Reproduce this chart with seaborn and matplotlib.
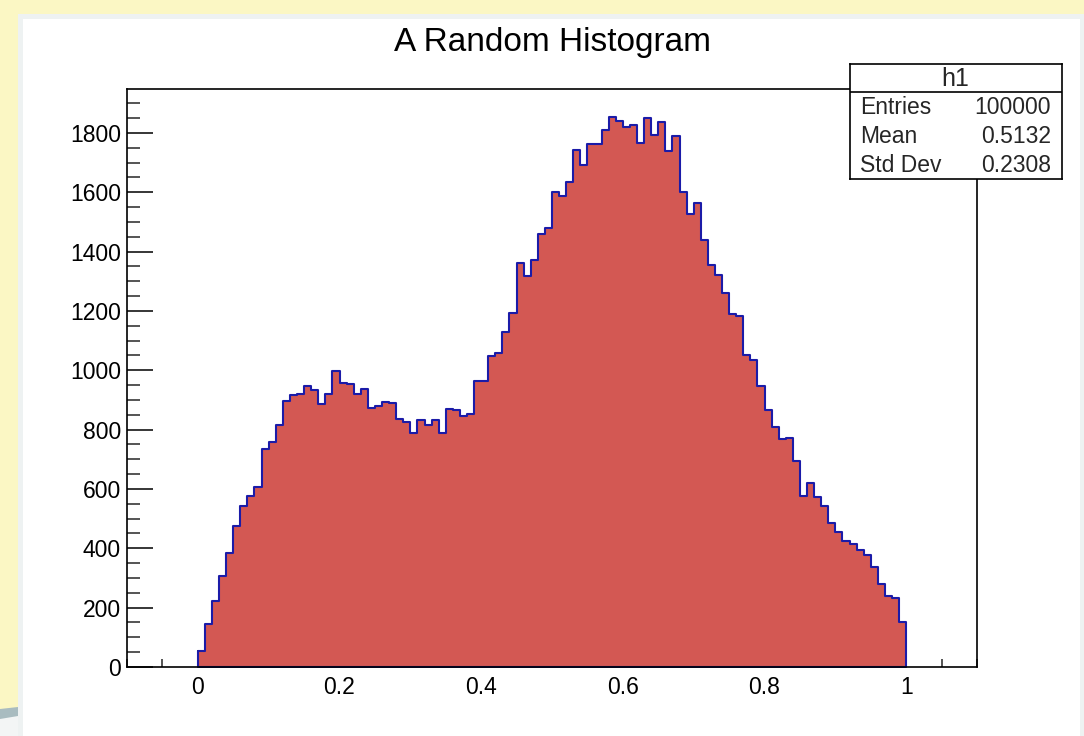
import numpy as np
import matplotlib
matplotlib.use("Agg")
import matplotlib.pyplot as plt
from matplotlib.patches import Rectangle, Polygon
from matplotlib.ticker import MultipleLocator, FixedLocator
import seaborn as sns

# ---------------- data ----------------
title = "A Random Histogram"
hist_name = "h1"
n_bins = 100
x_low, x_high = 0.0, 1.0
counts = [
    54, 145, 223, 306, 385, 474, 541, 575, 607, 736,
    758, 814, 896, 916, 919, 947, 935, 887, 920, 996,
    957, 953, 921, 937, 874, 878, 893, 889, 836, 825,
    790, 832, 814, 831, 790, 869, 866, 845, 854, 964,
    964, 1048, 1058, 1129, 1194, 1362, 1318, 1371, 1459, 1479,
    1602, 1588, 1636, 1743, 1692, 1762, 1764, 1808, 1855, 1841,
    1819, 1825, 1767, 1850, 1793, 1836, 1739, 1790, 1602, 1526,
    1563, 1439, 1355, 1320, 1261, 1188, 1183, 1053, 1033, 947,
    867, 809, 770, 771, 693, 575, 619, 572, 541, 486,
    454, 423, 413, 395, 378, 337, 279, 239, 233, 150,
]
x_tick_values = [0, 0.2, 0.4, 0.6, 0.8, 1.0]
x_tick_labels = ["0", "0.2", "0.4", "0.6", "0.8", "1"]
y_tick_values = [0, 200, 400, 600, 800, 1000, 1200, 1400, 1600, 1800]
y_tick_labels = [str(v) for v in y_tick_values]
stat_names = ["Entries", "Mean", "Std Dev"]
stat_values = ["100000", "0.5132", "0.2308"]

bin_width = (x_high - x_low) / n_bins
centers = x_low + bin_width * (np.arange(n_bins) + 0.5)

# ---------------- style ----------------
sns.set_style("ticks")
plt.rcParams["font.family"] = ["Liberation Sans", "DejaVu Sans"]

W, H = 1084, 736
fig = plt.figure(figsize=(W / 100, H / 100), dpi=100, facecolor="#fbf7c4")


def fx(x):
    return x / W


def fy(y):
    return 1 - y / H


# canvas window
fig.add_artist(Rectangle((fx(18), 0), fx(W) - fx(18), fy(14), transform=fig.transFigure,
                         facecolor="#eef2f2", edgecolor="none", zorder=-10))
fig.add_artist(Rectangle((fx(23), 0), fx(1080) - fx(23), fy(19), transform=fig.transFigure,
                         facecolor="white", edgecolor="none", zorder=-9))
fig.add_artist(Rectangle((0, 0), fx(18), fy(712), transform=fig.transFigure,
                         facecolor="#f3f5f5", edgecolor="none", zorder=-9))
fig.add_artist(Polygon([(0, fy(709)), (fx(18), fy(707)), (fx(18), fy(716)), (0, fy(719))],
                       closed=True, transform=fig.transFigure,
                       facecolor="#a9bcc0", edgecolor="none", zorder=-8))

# main axes (frame)
left, right, top, bottom = 127, 977, 89, 667
ax = fig.add_axes([fx(left), fy(bottom), fx(right) - fx(left), fy(top) - fy(bottom)])
ax.set_facecolor("white")

sns.histplot(x=centers, weights=counts, bins=n_bins, binrange=(x_low, x_high),
             element="step", fill=True, facecolor="#d35853", edgecolor="#1b1ba8",
             linewidth=1.5, alpha=1, ax=ax)

ax.set_xlim(-0.1, 1.1)
ax.set_ylim(0, max(counts) * 1.05)
ax.set_xlabel("")
ax.set_ylabel("")

ax.xaxis.set_major_locator(FixedLocator(x_tick_values))
ax.set_xticklabels(x_tick_labels)
ax.xaxis.set_minor_locator(MultipleLocator(0.05))
ax.yaxis.set_major_locator(FixedLocator(y_tick_values))
ax.set_yticklabels(y_tick_labels)
ax.yaxis.set_minor_locator(MultipleLocator(50))

ax.tick_params(axis="x", which="major", direction="in", length=12.2, width=1.1,
               pad=6.5, labelsize=16.5, colors="black", top=False)
ax.tick_params(axis="x", which="minor", direction="in", length=6.0, width=1.1, top=False)
ax.tick_params(axis="y", which="major", direction="in", length=18.7, width=1.1,
               pad=4.5, labelsize=16.5, colors="black", right=False)
ax.tick_params(axis="y", which="minor", direction="in", length=9.4, width=1.1, right=False)
for s in ax.spines.values():
    s.set_visible(True)
    s.set_linewidth(1.2)
    s.set_color("black")

# title
fig.text(fx(552.5), fy(43), title, ha="center", va="center", fontsize=24, color="black")

# stats box
bx0, bx1, by0, by1 = 850, 1062, 64, 179
sax = fig.add_axes([fx(bx0), fy(by1), fx(bx1) - fx(bx0), fy(by0) - fy(by1)])
sax.set_facecolor("white")
sax.set_xlim(bx0, bx1)
sax.set_ylim(by1, by0)
sax.set_xticks([])
sax.set_yticks([])
for s in sax.spines.values():
    s.set_linewidth(1.2)
    s.set_color("black")
sax.axhline(92, color="black", lw=1.2)
sax.text(955, 79, hist_name, ha="center", va="center", fontsize=18)
row_y = [108, 136.5, 165]
for name, val, yy in zip(stat_names, stat_values, row_y):
    sax.text(860, yy, name, ha="left", va="center", fontsize=16.5)
    sax.text(1051, yy, val, ha="right", va="center", fontsize=16.5)

fig.savefig("out.png", dpi=100, facecolor=fig.get_facecolor())
